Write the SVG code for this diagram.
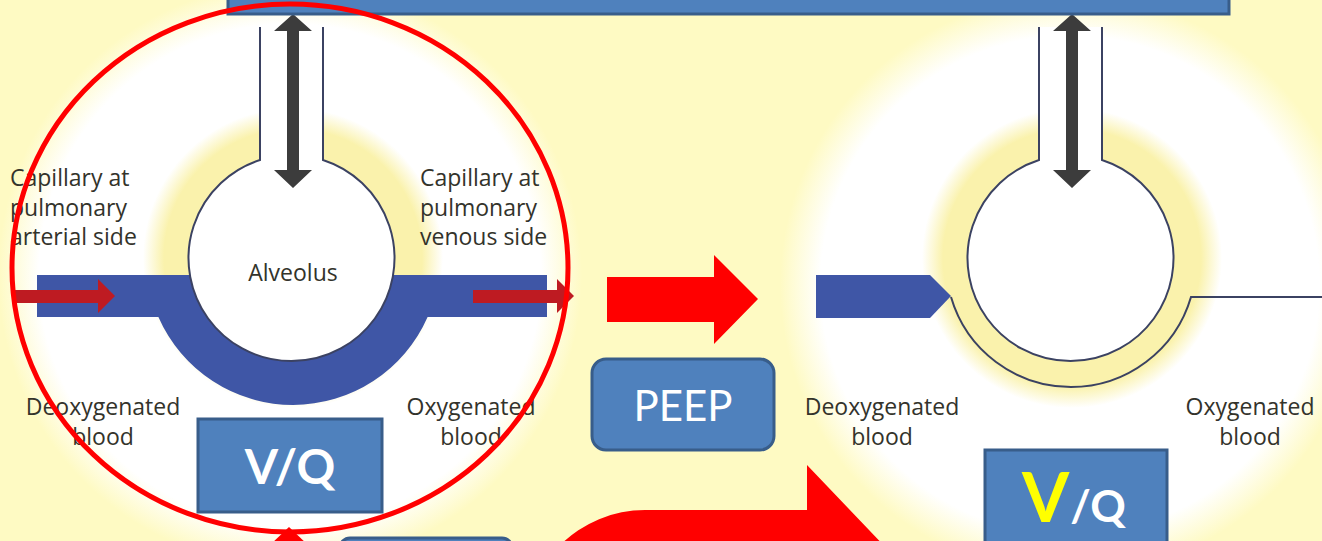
<svg xmlns="http://www.w3.org/2000/svg" width="1322" height="541" viewBox="0 0 1322 541">
  <style>
    .lbl { font-family: "Open Sans", "Liberation Sans", sans-serif; font-size: 23px; fill: #33332b; }
    .mid { text-anchor: middle; }
    .wall { fill: none; stroke: #3b4262; stroke-width: 2; }
    .box { fill: #4F81BD; stroke: #385D8A; stroke-width: 3; }
    .boxtxt { font-family: Lato, "Open Sans", sans-serif; fill: #ffffff; text-anchor: middle; }
    .flow { fill: #BE1B22; }
    .gas { fill: #3c3c3c; }
    .blood { fill: #3F56A6; }
    .bigred { fill: #FF0000; }
  </style>
  <defs>
    <radialGradient id="discL" cx="290" cy="275" r="292" gradientUnits="userSpaceOnUse">
      <stop offset="0.86" stop-color="#ffffff"/>
      <stop offset="1" stop-color="#FEFAC3"/>
    </radialGradient>
    <radialGradient id="discR" cx="1070" cy="285" r="290" gradientUnits="userSpaceOnUse">
      <stop offset="0.86" stop-color="#ffffff"/>
      <stop offset="1" stop-color="#FEFAC3"/>
    </radialGradient>
    <radialGradient id="halo" cx="0.5" cy="0.5" r="0.5">
      <stop offset="0.86" stop-color="#FAF2AC"/>
      <stop offset="1" stop-color="#FAF2AC" stop-opacity="0"/>
    </radialGradient>
    <!-- double-headed gas exchange arrow, drawn at x=0 -->
    <path id="gasArrow" d="M0,14 L19,31 L6,31 L6,170 L19,170 L0,188 L-19,170 L-6,170 L-6,31 L-19,31 Z"/>
  </defs>

  <!-- background -->
  <rect x="0" y="0" width="1322" height="541" fill="#FEFAC3"/>

  <!-- normal alveolus panel -->
  <g id="panel-left">
    <circle cx="290" cy="275" r="292" fill="url(#discL)"/>
    <circle cx="293" cy="258" r="150" fill="url(#halo)"/>
    <path class="blood" d="M37,275 H547 V317 H427.6 A147,147 0 0 1 158.4,317 H37 Z"/>
    <path d="M260,27 V160 A103,103 0 1 0 323,160 V27 Z" fill="#ffffff"/>
    <path class="wall" d="M260,27 V160 A103,103 0 1 0 323,160 V27"/>
    <use href="#gasArrow" x="293" class="gas"/>
    <path class="flow" d="M12,290 H98 V279 L115,296 L98,313 V303 H12 Z"/>
    <path class="flow" d="M473,290 H557 V279 L574,296 L557,313 V303 H473 Z"/>
    <text class="lbl" x="10" y="186">Capillary at</text>
    <text class="lbl" x="10" y="216">pulmonary</text>
    <text class="lbl" x="10" y="245">arterial side</text>
    <text class="lbl" x="420" y="186">Capillary at</text>
    <text class="lbl" x="420" y="216">pulmonary</text>
    <text class="lbl" x="420" y="245">venous side</text>
    <text class="lbl mid" x="293" y="281" font-size="22">Alveolus</text>
    <text class="lbl mid" x="103" y="415">Deoxygenated</text>
    <text class="lbl mid" x="103" y="445">blood</text>
    <text class="lbl mid" x="471" y="415">Oxygenated</text>
    <text class="lbl mid" x="471" y="445">blood</text>
  </g>

  <!-- alveolus with PEEP: capillary squeezed -->
  <g id="panel-right">
    <circle cx="1070" cy="285" r="290" fill="url(#discR)"/>
    <circle cx="1072" cy="258" r="150" fill="url(#halo)"/>
    <path class="blood" d="M816,275 H930 L951,296 L930,318 H816 Z"/>
    <path class="wall" d="M951,297 A125,125 0 0 0 1191,297 H1322"/>
    <path d="M1039,27 V160 A103,103 0 1 0 1102,160 V27 Z" fill="#ffffff"/>
    <path class="wall" d="M1039,27 V160 A103,103 0 1 0 1102,160 V27"/>
    <use href="#gasArrow" x="1072" class="gas"/>
    <text class="lbl mid" x="882" y="415">Deoxygenated</text>
    <text class="lbl mid" x="882" y="445">blood</text>
    <text class="lbl mid" x="1250" y="415">Oxygenated</text>
    <text class="lbl mid" x="1250" y="445">blood</text>
  </g>

  <g id="box-top">
    <rect class="box" x="228" y="-10" width="1001" height="24"/>
  </g>

  <g id="box-vq-left">
    <rect class="box" x="198" y="419" width="184" height="93"/>
    <text class="boxtxt" x="290" y="484" font-size="48" font-weight="bold">V/Q</text>
  </g>

  <g id="box-peep">
    <rect class="box" x="592" y="359" width="182" height="91" rx="14"/>
    <text class="boxtxt" x="683" y="421" font-size="42">PEEP</text>
  </g>

  <g id="box-vq-right">
    <rect class="box" x="985" y="450" width="182" height="100"/>
    <text x="1022" y="522" font-family="Lato, 'Open Sans', sans-serif" font-weight="bold"><tspan font-size="68" fill="#FFFF00">V</tspan><tspan font-size="44" fill="#ffffff" dx="1">/Q</tspan></text>
  </g>

  <g id="box-bottom">
    <rect class="box" x="340" y="538" width="172" height="30" rx="10"/>
  </g>

  <g id="connectors">
    <!-- highlight ring -->
    <ellipse cx="290" cy="268" rx="278" ry="264" fill="none" stroke="#FF0000" stroke-width="5"/>
    <!-- transition arrow -->
    <path class="bigred" d="M607,277 H714 V255 L758,299 L714,344 V322 H607 Z"/>
    <!-- bent arrow -->
    <path class="bigred" d="M525,600 V630 A120,120 0 0 1 645,510 H807 V465 L890,552 L807,640 V600 Z"/>
    <!-- upward arrow tip -->
    <path class="bigred" d="M289,527 L308,545 L270,545 Z"/>
  </g>
</svg>
